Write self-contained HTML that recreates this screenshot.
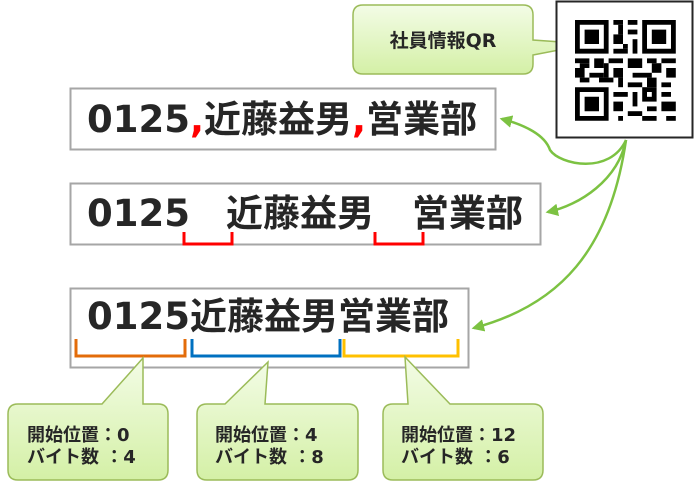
<!DOCTYPE html>
<html><head><meta charset="utf-8"><style>
body{margin:0;background:#fff;}
svg{display:block}
text{font-family:"DejaVu Sans","Noto Sans CJK JP",sans-serif;font-weight:bold;fill:#262626}
.big{font-size:37px}
.sm{font-size:18px}
.lb{font-size:19px}
</style></head><body>
<svg width="695" height="492" viewBox="0 0 695 492" xmlns="http://www.w3.org/2000/svg">
<defs>
<linearGradient id="g" x1="0" y1="0" x2="0" y2="1">
<stop offset="0" stop-color="#f3fce6"/><stop offset="1" stop-color="#d4f0a6"/>
</linearGradient>
<marker id="ah" viewBox="0 0 10 10" refX="8" refY="5" markerWidth="5" markerHeight="5" orient="auto-start-reverse">
<path d="M0,0 L10,5 L0,10 z" fill="#7cc242"/>
</marker>
</defs>

<path d="M363,5 H523 Q533,5 533,15 V40 L590,44 L533,55 V64 Q533,74 523,74 H363 Q353,74 353,64 V15 Q353,5 363,5 Z" fill="url(#g)" stroke="#9bbb59" stroke-width="1.5"/>
<text x="443" y="47" class="lb" text-anchor="middle">社員情報QR</text>

<rect x="556.5" y="1.5" width="136" height="136" fill="#fff" stroke="#262626" stroke-width="2"/>
<g fill="#000" transform="translate(575,20) scale(4.8)">
<path d="M0,0h7v7h-7z M1,1v5h5v-5z M2,2h3v3h-3z" fill-rule="evenodd"/>
<path d="M14,0h7v7h-7z M15,1v5h5v-5z M16,2h3v3h-3z" fill-rule="evenodd"/>
<path d="M0,14h7v7h-7z M1,15v5h5v-5z M2,16h3v3h-3z" fill-rule="evenodd"/>
<rect x="8" y="0" width="2" height="1"/><rect x="11" y="0" width="2" height="1"/>
<rect x="9" y="1" width="1" height="2"/><rect x="11" y="2" width="2" height="1"/>
<rect x="8" y="3" width="2" height="2"/><rect x="12" y="4" width="1" height="3"/>
<rect x="8" y="6" width="3" height="1"/><rect x="10" y="5" width="1" height="1"/>
<rect x="0" y="8" width="3" height="1"/><rect x="4" y="8" width="2" height="2"/>
<rect x="1" y="9" width="2" height="1"/><rect x="7" y="8" width="3" height="1"/>
<rect x="11" y="8" width="3" height="2"/><rect x="15" y="8" width="2" height="1"/>
<rect x="18" y="8" width="3" height="1"/><rect x="0" y="10" width="2" height="2"/>
<rect x="3" y="11" width="3" height="1"/><rect x="6" y="9" width="1" height="3"/>
<rect x="8" y="10" width="2" height="2"/><rect x="12" y="11" width="4" height="1"/>
<rect x="16" y="9" width="2" height="2"/><rect x="19" y="10" width="2" height="2"/>
<rect x="1" y="12" width="2" height="1"/><rect x="5" y="12" width="3" height="1"/>
<rect x="9" y="12" width="1" height="2"/><rect x="11" y="13" width="3" height="1"/>
<rect x="15" y="12" width="2" height="2"/><rect x="18" y="13" width="2" height="1"/>
<rect x="8" y="15" width="3" height="1"/><rect x="12" y="15" width="1" height="3"/>
<rect x="14" y="14" width="3" height="3"/><rect x="15" y="15" width="1" height="1" fill="#fff"/>
<rect x="18" y="15" width="2" height="1"/><rect x="8" y="17" width="2" height="2"/>
<rect x="11" y="19" width="3" height="1"/><rect x="15" y="18" width="2" height="1"/>
<rect x="18" y="17" width="3" height="2"/><rect x="9" y="20" width="1" height="1"/>
<rect x="14" y="20" width="3" height="1"/><rect x="19" y="20" width="2" height="1"/>
</g>

<rect x="70.5" y="88.5" width="425" height="61" fill="#fff" stroke="#a6a6a6" stroke-width="2"/>
<text x="87" y="132" class="big">0125<tspan fill="#ff0000">,</tspan>近藤益男<tspan fill="#ff0000">,</tspan>営業部</text>

<rect x="70.5" y="183.5" width="470" height="61" fill="#fff" stroke="#a6a6a6" stroke-width="2"/>
<text x="87" y="226" class="big">0125</text>
<text x="226" y="226" class="big">近藤益男</text>
<text x="412" y="226" class="big">営業部</text>
<path d="M184,232 v12 h48 v-12" fill="none" stroke="#ff0000" stroke-width="3"/>
<path d="M375,232 v12 h48 v-12" fill="none" stroke="#ff0000" stroke-width="3"/>

<rect x="70.5" y="288.5" width="398" height="79" fill="#fff" stroke="#a6a6a6" stroke-width="2"/>
<text x="87" y="329" class="big">0125近藤益男営業部</text>
<path d="M76,339 v17 h109 v-17" fill="none" stroke="#e36c0a" stroke-width="3"/>
<path d="M192,339 v17 h148 v-17" fill="none" stroke="#0070c0" stroke-width="3"/>
<path d="M344,339 v17 h114 v-17" fill="none" stroke="#ffc000" stroke-width="3"/>

<g fill="none" stroke="#7cc242" stroke-width="2.5">
<path d="M626,140 C610,175 560,165 550,150 C545,135 525,125 502,119" marker-end="url(#ah)"/>
<path d="M626,140 C618,180 580,205 548,212" marker-end="url(#ah)"/>
<path d="M626,140 C610,250 560,305 474,328" marker-end="url(#ah)"/>
</g>

<g stroke="#9bbb59" stroke-width="1.5" fill="url(#g)">
<path d="M18,404 H102 L143,358 V404 H158 Q168,404 168,414 V470 Q168,480 158,480 H18 Q8,480 8,470 V414 Q8,404 18,404 Z"/>
<path d="M207,404 H225 L268,362 L265,404 H348 Q358,404 358,414 V470 Q358,480 348,480 H207 Q197,480 197,470 V414 Q197,404 207,404 Z"/>
<path d="M393,404 H408 L405,357 L450,404 H533 Q543,404 543,414 V470 Q543,480 533,480 H393 Q383,480 383,470 V414 Q383,404 393,404 Z"/>
</g>
<text x="27" y="441" class="sm">開始位置：0</text><text x="27" y="463" class="sm">バイト数 ：4</text>
<text x="215" y="441" class="sm">開始位置：4</text><text x="215" y="463" class="sm">バイト数 ：8</text>
<text x="401" y="441" class="sm">開始位置：12</text><text x="401" y="463" class="sm">バイト数 ：6</text>
</svg>
</body></html>
